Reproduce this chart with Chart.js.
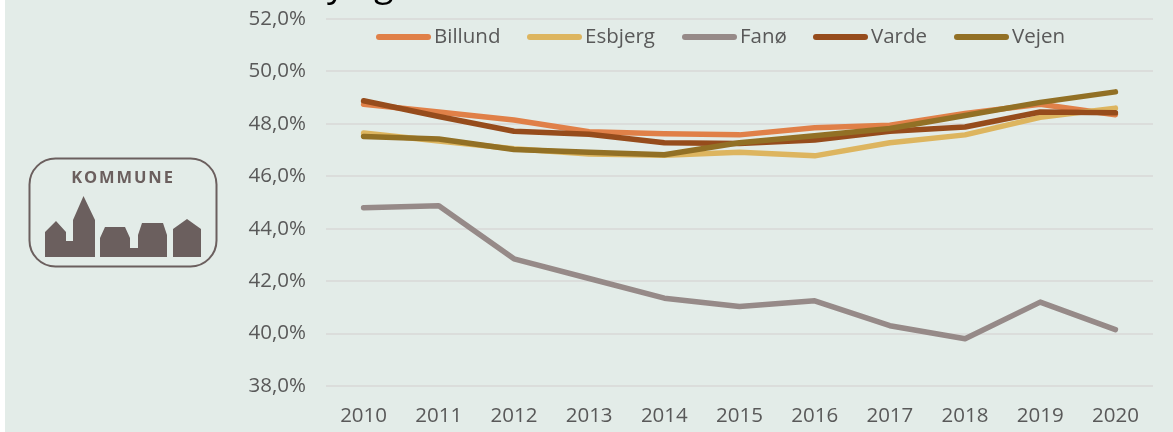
<!DOCTYPE html>
<html>
<head>
<meta charset="utf-8">
<script src="https://cdn.jsdelivr.net/npm/chart.js@4"></script>
<style>
  html,body{margin:0;padding:0;background:#fff;}
  #panel{position:absolute;left:5px;top:0;width:1168px;height:432px;background:#E3ECE8;overflow:hidden;}
  #wrap{position:absolute;left:-5px;top:0;width:1173px;height:432px;}
  #logo{position:absolute;left:23px;top:157px;}
</style>
</head>
<body>
<div id="panel">
  <div id="wrap"><canvas id="chart" width="1173" height="432"></canvas></div>
  <svg id="logo" width="190" height="112" viewBox="0 0 190 112">
    <rect x="1.5" y="1.5" width="187" height="108" rx="26" fill="none" stroke="#6B5F5E" stroke-width="2"/>
    <text x="95" y="26" text-anchor="middle" font-family="'Open Sans'" font-weight="700" font-size="16.5" letter-spacing="1.9" fill="#6B5F5E">KOMMUNE</text>
    <path fill="#6B5F5E" d="M17 100V75L28 64L38 75V84H45V63L55.5 39L67 63V100Z"/>
    <path fill="#6B5F5E" d="M72 100V81L77 70H97L102 81V91H110V78L114 66H135L139 78V100Z"/>
    <path fill="#6B5F5E" d="M145 100V72L159 62L173 72V100Z"/>
  </svg>
</div>
<script>
const years = ['2010','2011','2012','2013','2014','2015','2016','2017','2018','2019','2020'];
const billund = [48.75,48.45,48.15,47.7,47.62,47.58,47.85,47.95,48.4,48.75,48.35];
const esbjerg = [47.65,47.35,47.05,46.85,46.8,46.92,46.78,47.28,47.58,48.25,48.6];
const fano = [44.8,44.88,42.85,42.1,41.35,41.03,41.25,40.3,39.8,41.2,40.15];
const varde = [48.88,48.28,47.72,47.6,47.28,47.25,47.38,47.72,47.88,48.45,48.42];
const vejen = [47.52,47.42,47.02,46.92,46.82,47.28,47.55,47.82,48.32,48.82,49.22];

const seriesNames = ['Billund','Esbjerg','Fanø','Varde','Vejen'];
const seriesColors = ['#E08048','#DDB55F','#968A88','#964C1C','#927025'];
const seriesValues = [billund,esbjerg,fano,varde,vejen];

new Chart(document.getElementById('chart'), {
  type:'line',
  data:{
    labels:years,
    datasets:seriesNames.map((name,i)=>({
      label:name, data:seriesValues[i], borderColor:seriesColors[i], backgroundColor:seriesColors[i],
      order:seriesNames.length-i,
      borderWidth:5.5, pointRadius:0, tension:0, borderCapStyle:'round', borderJoinStyle:'round', fill:false
    }))
  },
  options:{
    responsive:false, animation:false,
    layout:{padding:{left:0,right:20,top:19,bottom:0}},
    scales:{
      x:{
        offset:true,
        afterFit(s){ s.height=46; s.paddingLeft=0; s.paddingRight=0; },
        grid:{display:false}, border:{display:false},
        ticks:{color:'#595959', font:{family:'Open Sans', size:20.5}, maxRotation:0, padding:10}
      },
      y:{
        min:38, max:52,
        afterFit(s){ s.width=326; s.paddingTop=0; s.paddingBottom=0; },
        grid:{color:'#DBDDDB', lineWidth:2, drawTicks:false}, border:{display:false},
        ticks:{stepSize:2, color:'#595959', font:{family:'Open Sans', size:20.5}, padding:20,
          callback:v=>v.toFixed(1).replace('.',',')+'%'}
      }
    },
    plugins:{
      legend:{display:false}
    }
  },
  plugins:[{
    id:'topLegend',
    afterDraw(chart){
      const c=chart.ctx;
      const starts=[376,527,682,813,954];
      c.save();
      c.font='20.5px "Open Sans"';
      c.textBaseline='middle';
      chart.data.datasets.forEach((d,i)=>{
        c.strokeStyle=d.borderColor;c.lineWidth=6;c.lineCap='round';
        c.beginPath();c.moveTo(starts[i]+3,37);c.lineTo(starts[i]+52,37);c.stroke();
        c.fillStyle='#595959';
        c.fillText(d.label,starts[i]+58,37);
      });
      // what is left of the cut-off heading at the top edge
      c.font='36px "Open Sans"';
      c.textBaseline='alphabetic';
      c.fillStyle='#000';
      c.fillText('y',327,-4);
      c.fillText('g',374,-4);
      c.restore();
    }
  }]
});
</script>
</body>
</html>
